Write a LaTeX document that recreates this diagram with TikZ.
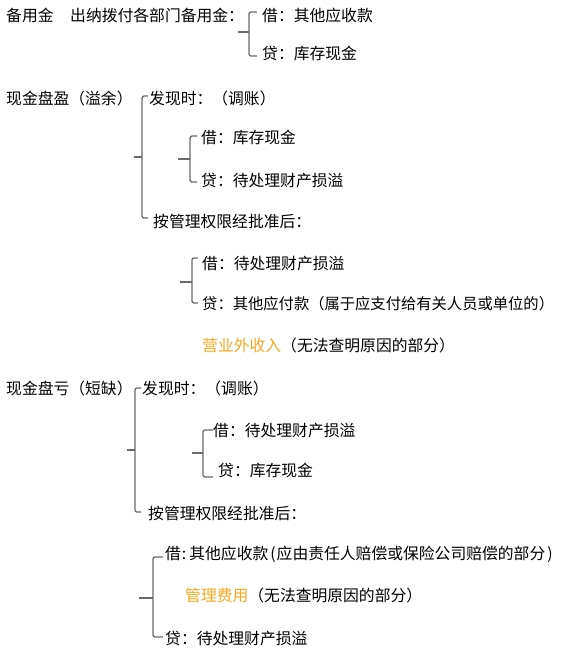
\documentclass[tikz,border=0pt]{standalone}
\usepackage{fontspec}
\setmainfont{Noto Sans CJK SC}
\definecolor{brk}{RGB}{105,105,105}
\definecolor{acc}{RGB}{250,168,30}
\tikzset{
  txt/.style={anchor=base west, inner sep=0pt, font=\fontsize{15.8}{18}\selectfont, text=black},
  brkline/.style={draw=brk, line width=1.3pt, rounded corners=2pt},
}
% x, top, bottom, mid, stub-left, tick-right
\newcommand\accbrace[6]{%
  \draw[brkline] (#6,#2) -- (#1,#2) -- (#1,#3) -- (#6,#3);
  \draw[brkline] (#5,#4) -- (#1,#4);}
\begin{document}
\begin{tikzpicture}[x=1pt,y=-1pt]
\useasboundingbox[fill=white] (0,0) rectangle (564,649);
% section 1
\node[txt] (a1) at (6,21) {备用金};
\node[txt] (a2) at (70,21) {出纳拨付各部门备用金：};
\node[txt] (a3) at (262,21) {借：其他应收款};
\node[txt] (a4) at (262,59) {贷：库存现金};
\accbrace{249}{12}{56}{32}{238}{257}
% section 2
\node[txt] (b1) at (6,104) {现金盘盈（溢余）};
\node[txt] (b2) at (149,104) {发现时：（调账）};
\accbrace{142}{96}{218}{157}{134}{148}
\node[txt] (b3) at (201,143) {借：库存现金};
\node[txt] (b4) at (201,186) {贷：待处理财产损溢};
\accbrace{190}{136}{182}{159}{178}{197}
\node[txt] (b5) at (153,227) {按管理权限经批准后：};
\node[txt] (b6) at (202,269) {借：待处理财产损溢};
\node[txt, font=\fontsize{15.3}{18}\selectfont] (b7) at (202,309) {贷：其他应付款（属于应支付给有关人员或单位的）};
\accbrace{192}{258}{303}{282}{180}{198}
\node[txt] (b8) at (202,351) {\textcolor{acc}{营业外收入}（无法查明原因的部分）};
% section 3
\node[txt] (c1) at (6,394) {现金盘亏（短缺）};
\node[txt] (c2) at (142,394) {发现时：（调账）};
\accbrace{135}{388}{512}{450}{127}{141}
\node[txt] (c3) at (213,436) {借：待处理财产损溢};
\node[txt] (c4) at (218,476) {贷：库存现金};
\accbrace{203}{430}{477}{453}{192}{213}
\node[txt] (c5) at (148,519) {按管理权限经批准后：};
\node[txt] (c6) at (165,559) {借\hspace{1pt}:\hspace{3pt}其他应收款\hspace{2pt}(\hspace{1pt}应由责任人赔偿或保险公司赔偿的部分\hspace{2pt})};
\node[txt] (c7) at (185,601) {\textcolor{acc}{管理费用}（无法查明原因的部分）};
\node[txt] (c8) at (165,644) {贷：待处理财产损溢};
\accbrace{153}{557}{637}{598}{139}{163}
\end{tikzpicture}
\end{document}
